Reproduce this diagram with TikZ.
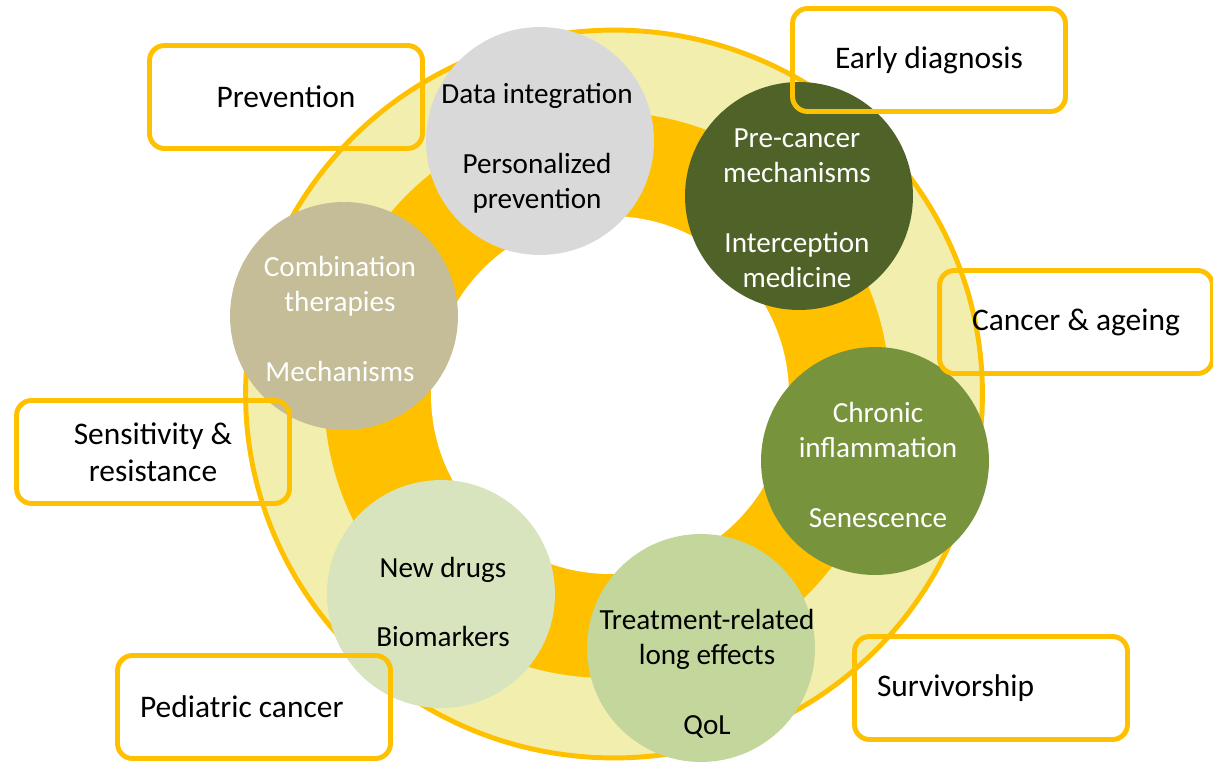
\documentclass[tikz,border=0pt]{standalone}
\usepackage{fontspec}
\setmainfont{Carlito}
\usepackage{tikz}
\usetikzlibrary{positioning}
\definecolor{gold}{HTML}{FFC000}
\definecolor{ringlight}{HTML}{F2EEAE}
\definecolor{topicgray}{HTML}{D9D9D9}
\definecolor{olivedark}{HTML}{4F6228}
\definecolor{olivemid}{HTML}{77933C}
\definecolor{olivepale}{HTML}{D7E4BD}
\definecolor{olivelight}{HTML}{C3D69B}
\definecolor{topictan}{HTML}{C4BD97}

\begin{document}
\begin{tikzpicture}[
    x=0.02cm, y=-0.02cm,
    topic/.style={circle, minimum size=4.56cm, inner sep=0pt},
    topictext/.style={align=center, font=\fontsize{16.6}{19.9}\selectfont},
    field/.style={draw=gold, line width=2.8pt, rounded corners=0.3cm, minimum width=5.46cm, minimum height=2.06cm, align=center, font=\fontsize{17.9}{21}\selectfont},
    leftfield/.style={field, text width=4.56cm, inner xsep=0.45cm, align=flush left}
]
    \useasboundingbox (0,0) rectangle (1213,763);

    % background rings
    \draw[gold, line width=2.8pt, fill=ringlight] (614,394) ellipse[x radius=7.37cm, y radius=7.28cm];
    \fill[gold] (607,395) circle[radius=5.66cm];
    \fill[white] (610,395) circle[radius=3.58cm];

    % topic circles
    \node[topic, fill=topicgray] (integ) at (540,141) {};
    \node[topic, fill=olivedark] (precancer) at (799,196) {};
    \node[topic, fill=topictan] (combi) at (344,316) {};
    \node[topic, fill=olivemid] (chronic) at (875,461) {};
    \node[topic, fill=olivepale] (drugs) at (441,594) {};
    \node[topic, fill=olivelight] (treat) at (701,648) {};

    \node[topictext] (integtxt) at (537,148) {Data integration\\[19.9pt]Personalized\\prevention};
    \node[topictext, text=white] (precancertxt) at (797,208) {Pre-cancer\\mechanisms\\[19.9pt]Interception\\medicine};
    \node[topictext, text=white] (combitxt) at (340,319) {Combination\\therapies\\[19.9pt]Mechanisms};
    \node[topictext, text=white] (chronictxt) at (878,465) {Chronic\\inflammation\\[19.9pt]Senescence};
    \node[topictext] (drugstxt) at (443,602) {New drugs\\[19.9pt]Biomarkers};
    \node[topictext] (treattxt) at (707,674) {Treatment-related\\long effects\\[19.9pt]QoL};

    % fields
    \node[field] (prevention) at (286,97) {Prevention};
    \node[field] (early) at (929,60) {Early diagnosis};
    \node[field] (ageing) at (1076,322) {Cancer \& ageing};
    \node[field] (sensitivity) at (153,452) {Sensitivity \&\\resistance};
    \node[leftfield] (pediatric) at (254,707) {Pediatric cancer};
    \node[leftfield] (survivor) at (991,688) {Survivorship};
\end{tikzpicture}
\end{document}
